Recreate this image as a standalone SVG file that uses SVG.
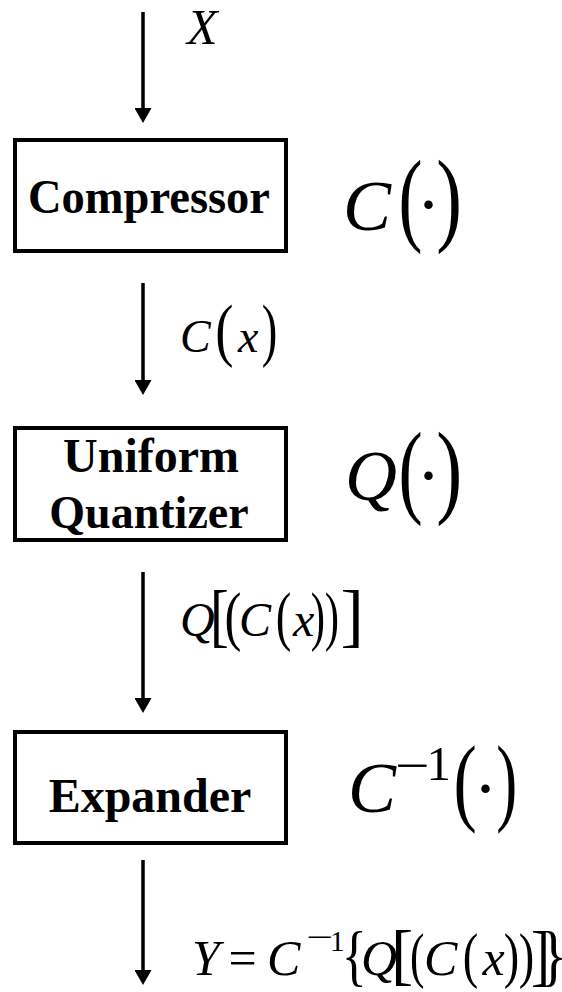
<svg xmlns="http://www.w3.org/2000/svg" width="562" height="992" viewBox="0 0 562 992">
<style>
.box{fill:#fff;stroke:#000;stroke-width:4}
.lbl{font-family:"Liberation Serif","Times New Roman",serif;font-weight:bold;font-size:48px;fill:#000;text-anchor:middle}
.m{font-family:"Liberation Serif","Times New Roman",serif;fill:#000}
.i{font-style:italic}
.conn line{stroke:#000;stroke-width:3.5;marker-end:url(#ah)}
</style>
<defs>
<marker id="ah" markerUnits="userSpaceOnUse" viewBox="0 -8.5 15 17" markerWidth="15" markerHeight="17" refX="5" refY="0" orient="auto">
<path d="M0,-8.5 L15,0 L0,8.5 Z" fill="#000"/>
</marker>
</defs>
<rect width="562" height="992" fill="#fff"/>
<g class="conn" id="connectors">
<line x1="143" y1="12" x2="143" y2="113"/>
<line x1="143" y1="283" x2="143" y2="385"/>
<line x1="143" y1="572" x2="143" y2="703"/>
<line x1="143" y1="860" x2="143" y2="975"/>
</g>
<g id="label-x">
<text class="m i" x="187" y="44" font-size="50">X</text>
</g>
<g id="compressor">
<rect class="box" x="15" y="140" width="271" height="111"/>
<text class="lbl" x="28" y="213" style="text-anchor:start" textLength="242" lengthAdjust="spacingAndGlyphs">Compressor</text>
<text class="m i" x="343" y="230" font-size="72">C</text>
<text class="m" font-size="103" x="-5" transform="translate(402,232) scale(0.7,1)">(</text>
<text class="m" x="416.5" y="229" font-size="72">·</text>
<text class="m" font-size="103" x="-1" transform="translate(437,232) scale(0.75,1)">)</text>
</g>
<g id="label-cx">
<text class="m i" x="180" y="352" font-size="46">C</text>
<text class="m" font-size="70" x="-3.4" transform="translate(218,353) scale(0.78,1)">(</text>
<text class="m i" x="238" y="352" font-size="46">x</text>
<text class="m" font-size="70" x="-2" transform="translate(263,353) scale(0.67,1)">)</text>
</g>
<g id="quantizer">
<rect class="box" x="15" y="428" width="271" height="112"/>
<text class="lbl" x="151" y="472">Uniform</text>
<text class="lbl" x="149" y="528" style="font-size:46px">Quantizer</text>
<text class="m i" x="345" y="500" font-size="72">Q</text>
<text class="m" font-size="104" x="-5" transform="translate(402,504) scale(0.7,1)">(</text>
<text class="m" x="416.5" y="500" font-size="72">·</text>
<text class="m" font-size="104" x="-1" transform="translate(437,504) scale(0.75,1)">)</text>
</g>
<g id="label-qcx">
<text class="m i" x="180" y="636" font-size="48">Q</text>
<text class="m" font-size="70" x="-6.2" transform="translate(215,639) scale(0.81,1)">[</text>
<text class="m" font-size="65" x="-3.1" transform="translate(227,638) scale(0.78,1)">(</text>
<text class="m i" x="239" y="636" font-size="48">C</text>
<text class="m" font-size="65" x="-3.1" transform="translate(278,638) scale(0.72,1)">(</text>
<text class="m i" x="293" y="636" font-size="48">x</text>
<text class="m" font-size="65" x="-1.9" transform="translate(312,638) scale(0.66,1)">)<tspan dx="-0.6">)</tspan></text>
<text class="m" font-size="70" x="-2.4" transform="translate(343,639)">]</text>
</g>
<g id="expander">
<rect class="box" x="15" y="732" width="271" height="111"/>
<text class="lbl" x="150" y="812">Expander</text>
<text class="m i" x="348" y="812" font-size="72">C</text>
<text class="m" font-size="49" x="-1.5" transform="translate(397,782) scale(1.25,1)">−</text>
<text class="m" x="426.5" y="780" font-size="49">1</text>
<text class="m" font-size="97" x="-4.7" transform="translate(457,813) scale(0.72,1)">(</text>
<text class="m" x="473.6" y="813" font-size="72">·</text>
<text class="m" font-size="97" x="-1" transform="translate(497,813) scale(0.65,1)">)</text>
</g>
<g id="label-y">
<text class="m i" x="192" y="975" font-size="50">Y</text>
<text class="m" x="228.5" y="975" font-size="50">=</text>
<text class="m i" x="267" y="975" font-size="50">C</text>
<text class="m" font-size="30" x="-0.9" transform="translate(308,947) scale(1.6,1)">−</text>
<text class="m" x="329.7" y="951" font-size="30">1</text>
<text class="m" font-size="67" x="-6.7" transform="translate(347,978) scale(0.78,1)">{</text>
<text class="m i" x="361" y="975" font-size="50">Q</text>
<text class="m" font-size="67" x="-5.9" transform="translate(397,977)">[</text>
<text class="m" font-size="62" x="-3" transform="translate(412,976) scale(0.7,1)">(</text>
<text class="m i" x="424" y="975" font-size="50">C</text>
<text class="m" font-size="62" x="-3" transform="translate(465,976) scale(0.75,1)">(</text>
<text class="m i" x="482.5" y="975" font-size="50">x</text>
<text class="m" font-size="62" x="-1.8" transform="translate(505,976) scale(0.75,1)">)<tspan dx="-0.6">)</tspan></text>
<text class="m" font-size="67" x="-2.3" transform="translate(533,978) scale(0.85,1)">]<tspan dx="-12">}</tspan></text>
</g>
</svg>
